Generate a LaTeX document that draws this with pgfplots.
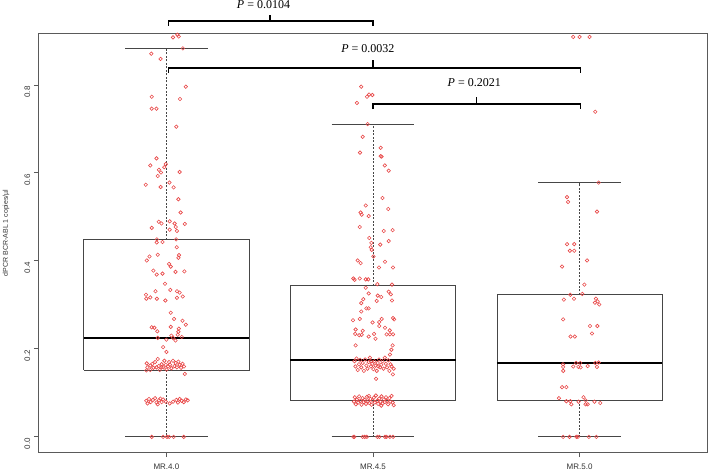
\documentclass[border=0pt]{standalone}
\usepackage{pgfplots}
\pgfplotsset{compat=1.18}
\usepackage{fontspec}
\setmainfont{Liberation Sans}
\newfontfamily\seriffont{Liberation Serif}
\definecolor{pt}{RGB}{232,72,72}
\definecolor{bx}{RGB}{70,70,70}
\definecolor{ax}{RGB}{90,90,90}
\begin{document}
\begin{tikzpicture}
\begin{axis}[
  at={(38.3pt,18.3pt)}, anchor=south west,
  scale only axis, width=669.4pt, height=419.7pt,
  xmin=0.38, xmax=3.62, ymin=-0.036, ymax=0.918,
  clip=false,
  axis line style={ax, line width=0.8pt},
  tick pos=left, tick align=outside, major tick length=4.5pt,
  tick style={ax, line width=0.8pt},
  xtick={1,2,3}, xticklabels={MR.4.0,MR.4.5,MR.5.0},
  ytick={0,0.2,0.4,0.6,0.8}, yticklabels={0.0,0.2,0.4,0.6,0.8},
  /pgf/number format/assume math mode=true,
  ticklabel style={font=\fontsize{8}{8}\selectfont, color=black!80},
  yticklabel style={rotate=90, anchor=south, xshift=-7pt},
  xticklabel style={anchor=north, yshift=-3pt},
  ylabel={dPCR BCR-ABL 1 copies/µl},
  ylabel style={font=\fontsize{7}{7}\selectfont, color=black!80, at={(axis description cs:-0.048,0.524)}, anchor=center},
]
% boxes
\addplot[bx, line width=0.8pt] coordinates {(0.6,0.151)(1.4,0.151)(1.4,0.448)(0.6,0.448)(0.6,0.151)};
\addplot[bx, line width=0.8pt] coordinates {(1.6,0.083)(2.4,0.083)(2.4,0.344)(1.6,0.344)(1.6,0.083)};
\addplot[bx, line width=0.8pt] coordinates {(2.6,0.083)(3.4,0.083)(3.4,0.323)(2.6,0.323)(2.6,0.083)};
% medians
\addplot[black, line width=1.8pt] coordinates {(0.6,0.225)(1.4,0.225)};
\addplot[black, line width=1.8pt] coordinates {(1.6,0.174)(2.4,0.174)};
\addplot[black, line width=1.8pt] coordinates {(2.6,0.167)(3.4,0.167)};
% whiskers
\addplot[bx, line width=0.7pt, dash pattern=on 2pt off 1.5pt] coordinates {(1,0.448)(1,0.882)};
\addplot[bx, line width=0.7pt, dash pattern=on 2pt off 1.5pt] coordinates {(1,0.151)(1,0)};
\addplot[bx, line width=0.7pt, dash pattern=on 2pt off 1.5pt] coordinates {(2,0.344)(2,0.711)};
\addplot[bx, line width=0.7pt, dash pattern=on 2pt off 1.5pt] coordinates {(2,0.083)(2,0)};
\addplot[bx, line width=0.7pt, dash pattern=on 2pt off 1.5pt] coordinates {(3,0.323)(3,0.578)};
\addplot[bx, line width=0.7pt, dash pattern=on 2pt off 1.5pt] coordinates {(3,0.083)(3,0)};
% caps
\addplot[bx, line width=0.8pt] coordinates {(0.8,0.882)(1.2,0.882)};
\addplot[bx, line width=0.8pt] coordinates {(0.8,0)(1.2,0)};
\addplot[bx, line width=0.8pt] coordinates {(1.8,0.711)(2.2,0.711)};
\addplot[bx, line width=0.8pt] coordinates {(1.8,0)(2.2,0)};
\addplot[bx, line width=0.8pt] coordinates {(2.8,0.578)(3.2,0.578)};
\addplot[bx, line width=0.8pt] coordinates {(2.8,0)(3.2,0)};
% points MR.4.0
\addplot[only marks, mark=o, mark size=1.75pt, pt, mark options={line width=0.6pt}] table {
x y
1.053 0.914
1.032 0.908
1.060 0.910
1.080 0.883
0.927 0.871
0.972 0.859
1.094 0.796
0.929 0.773
1.066 0.768
0.929 0.746
0.952 0.746
1.048 0.705
0.952 0.633
0.922 0.617
0.997 0.620
0.990 0.613
0.964 0.607
0.974 0.601
1.064 0.602
0.958 0.593
0.900 0.573
1.015 0.578
0.972 0.568
1.035 0.567
1.058 0.540
1.069 0.510
0.963 0.489
0.976 0.485
1.016 0.490
1.040 0.485
1.089 0.484
0.929 0.475
1.045 0.477
1.016 0.471
1.051 0.468
0.954 0.449
1.047 0.449
0.981 0.443
0.953 0.442
1.050 0.431
0.958 0.414
0.918 0.410
0.905 0.401
1.061 0.413
1.058 0.407
1.013 0.393
1.021 0.387
0.937 0.378
0.953 0.369
0.981 0.371
1.044 0.375
1.087 0.376
0.993 0.348
0.947 0.331
1.019 0.334
1.051 0.331
1.064 0.328
0.901 0.323
0.903 0.314
0.922 0.317
0.954 0.314
0.995 0.310
1.051 0.316
1.079 0.319
1.021 0.282
1.037 0.268
1.078 0.264
1.094 0.255
0.929 0.249
0.942 0.248
0.956 0.240
1.021 0.250
1.060 0.246
1.058 0.239
0.958 0.225
1.024 0.230
1.032 0.225
1.044 0.219
1.055 0.232
1.074 0.227
1.000 0.221
0.984 0.204
1.000 0.193
0.905 0.167
0.908 0.158
0.903 0.151
0.922 0.162
0.932 0.166
0.937 0.157
0.945 0.170
0.952 0.158
0.958 0.177
0.963 0.161
0.968 0.152
0.977 0.165
0.985 0.158
0.990 0.173
0.997 0.164
1.001 0.153
1.008 0.160
1.013 0.170
1.017 0.164
1.024 0.156
1.032 0.173
1.039 0.161
1.045 0.168
1.051 0.158
1.058 0.171
1.064 0.164
1.071 0.157
1.078 0.166
1.085 0.160
1.089 0.143
0.922 0.152
0.976 0.158
0.903 0.082
0.909 0.076
0.916 0.086
0.924 0.079
0.935 0.084
0.945 0.088
0.952 0.078
0.958 0.074
0.964 0.083
0.971 0.087
0.977 0.079
0.984 0.085
0.997 0.080
1.016 0.076
1.032 0.080
1.048 0.084
1.056 0.078
1.064 0.086
1.074 0.082
1.084 0.079
1.094 0.085
1.103 0.083
0.929 0.000
0.984 0.000
1.003 0.000
1.013 0.000
1.035 0.000
1.084 0.000
};
% points MR.4.5
\addplot[only marks, mark=o, mark size=1.75pt, pt, mark options={line width=0.6pt}] table {
x y
1.943 0.796
1.971 0.773
1.981 0.778
1.997 0.777
1.922 0.759
1.974 0.711
1.950 0.682
1.937 0.646
2.037 0.657
2.037 0.638
2.042 0.637
2.057 0.617
2.076 0.605
2.046 0.543
1.965 0.526
2.074 0.518
1.940 0.510
1.945 0.505
1.979 0.502
1.936 0.477
2.052 0.468
2.095 0.470
1.982 0.452
2.076 0.445
1.992 0.441
2.035 0.437
1.989 0.431
1.994 0.425
2.002 0.410
1.926 0.401
1.940 0.395
2.058 0.398
2.029 0.385
2.097 0.385
1.905 0.360
1.911 0.357
1.936 0.360
1.965 0.358
1.977 0.358
2.021 0.347
2.092 0.346
1.965 0.339
2.076 0.330
1.979 0.326
2.086 0.324
2.023 0.321
2.040 0.318
1.953 0.313
2.018 0.309
2.092 0.310
1.943 0.304
1.968 0.292
1.979 0.292
1.943 0.285
1.903 0.265
1.936 0.268
2.042 0.268
2.097 0.270
2.102 0.267
1.998 0.260
2.030 0.261
2.030 0.252
1.916 0.244
1.950 0.241
2.058 0.248
2.081 0.242
1.914 0.234
1.933 0.231
1.945 0.232
1.979 0.228
2.005 0.234
2.012 0.223
2.066 0.233
2.082 0.233
2.097 0.233
1.916 0.208
2.095 0.208
2.089 0.198
2.082 0.187
1.910 0.172
1.915 0.160
1.920 0.178
1.926 0.152
1.932 0.165
1.938 0.175
1.943 0.158
1.950 0.168
1.956 0.150
1.962 0.176
1.968 0.162
1.973 0.155
1.979 0.170
1.985 0.180
1.990 0.160
1.996 0.166
2.002 0.154
2.007 0.172
2.012 0.162
2.018 0.150
2.023 0.168
2.029 0.176
2.034 0.158
2.040 0.164
2.046 0.172
2.051 0.155
2.057 0.180
2.062 0.166
2.068 0.158
2.074 0.174
2.079 0.150
2.085 0.165
2.090 0.160
2.096 0.142
2.100 0.155
1.990 0.172
2.025 0.160
2.015 0.132
1.908 0.080
1.912 0.090
1.917 0.074
1.922 0.085
1.928 0.078
1.933 0.092
1.939 0.082
1.944 0.073
1.950 0.088
1.955 0.079
1.960 0.084
1.966 0.075
1.971 0.091
1.977 0.081
1.982 0.077
1.988 0.086
1.993 0.073
1.998 0.083
2.004 0.089
2.009 0.078
2.014 0.094
2.020 0.082
2.025 0.075
2.030 0.087
2.036 0.080
2.041 0.092
2.046 0.076
2.052 0.085
2.057 0.079
2.063 0.090
2.068 0.082
2.073 0.074
2.079 0.088
2.084 0.080
2.090 0.093
2.095 0.078
2.100 0.072
1.980 0.093
2.040 0.071
1.905 0.000
1.910 0.000
1.950 0.000
1.960 0.000
1.970 0.000
2.021 0.000
2.031 0.000
2.058 0.000
2.066 0.000
2.082 0.000
2.097 0.000
};
% points MR.5.0
\addplot[only marks, mark=o, mark size=1.75pt, pt, mark options={line width=0.6pt}] table {
x y
2.969 0.909
3.000 0.909
3.048 0.909
3.076 0.739
3.092 0.578
2.939 0.545
2.944 0.534
3.084 0.512
2.939 0.438
2.974 0.438
2.953 0.423
2.974 0.423
3.036 0.401
2.915 0.387
3.023 0.346
2.955 0.323
3.013 0.325
2.924 0.312
2.973 0.314
3.079 0.314
3.074 0.305
3.087 0.308
3.095 0.301
2.920 0.267
3.050 0.252
3.086 0.252
3.060 0.235
2.956 0.228
2.977 0.228
2.920 0.165
2.920 0.159
2.921 0.150
2.969 0.160
2.983 0.168
2.994 0.159
3.003 0.168
3.005 0.158
3.039 0.161
3.076 0.168
3.092 0.169
3.084 0.159
2.915 0.113
2.936 0.113
2.900 0.088
2.936 0.081
2.955 0.081
2.960 0.074
2.995 0.080
3.019 0.090
3.029 0.083
3.039 0.074
3.029 0.074
3.072 0.080
3.100 0.077
2.920 0.000
2.951 0.000
2.984 0.000
2.992 0.000
3.045 0.000
3.081 0.000
};
% significance brackets
\addplot[black, line width=1.6pt] coordinates {(1.01,0.934)(1.01,0.945)(2.0,0.945)(2.0,0.934)};
\addplot[black, line width=1.6pt] coordinates {(1.5,0.945)(1.5,0.958)};
\addplot[black, line width=1.6pt] coordinates {(1.01,0.827)(1.01,0.839)(3.005,0.839)(3.005,0.827)};
\addplot[black, line width=1.6pt] coordinates {(2.0,0.839)(2.0,0.857)};
\addplot[black, line width=1.6pt] coordinates {(2.0,0.745)(2.0,0.756)(3.005,0.756)(3.005,0.745)};
\addplot[black, line width=1.6pt] coordinates {(2.5,0.756)(2.5,0.773)};
\node[font=\seriffont\fontsize{12}{12}\selectfont] at (axis cs:1.47,0.982) {\textit{P} = 0.0104};
\node[font=\seriffont\fontsize{12}{12}\selectfont] at (axis cs:1.975,0.882) {\textit{P} = 0.0032};
\node[font=\seriffont\fontsize{12}{12}\selectfont] at (axis cs:2.49,0.805) {\textit{P} = 0.2021};
\end{axis}
\pgfresetboundingbox
\path[use as bounding box] (0,0) rectangle (709pt,471pt);
\end{tikzpicture}
\end{document}
